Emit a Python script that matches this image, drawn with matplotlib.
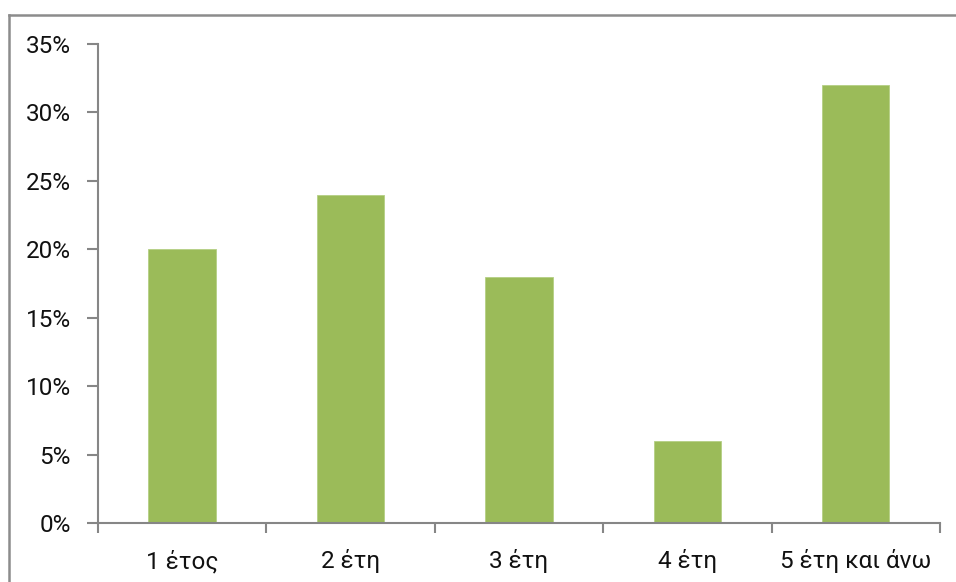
import matplotlib
matplotlib.use("Agg")
import matplotlib.pyplot as plt
from matplotlib.lines import Line2D
from matplotlib.ticker import FuncFormatter

categories = ["1 έτος", "2 έτη", "3 έτη", "4 έτη", "5 έτη και άνω"]
shares = [20, 24, 18, 6, 32]
y_ticks = [0, 5, 10, 15, 20, 25, 30, 35]

bar_color = "#9BBB59"
axis_color = "#868686"

plt.rcParams["font.family"] = ["Roboto", "DejaVu Sans"]

W, H = 956, 582
fig = plt.figure(figsize=(W / 100, H / 100), dpi=100)
ax = fig.add_axes([97.7 / W, 1 - 523 / H, (940 - 97.7) / W, (523 - 44) / H])

x = list(range(len(categories)))
ax.bar(x, shares, width=0.4, color=bar_color, edgecolor="#B5CF84", linewidth=0.6, zorder=2)

ax.set_xlim(-0.5, len(categories) - 0.5)
ax.set_ylim(0, 35)
ax.set_yticks(y_ticks)
ax.yaxis.set_major_formatter(FuncFormatter(lambda v, p: f"{v:.0f}%"))

ax.set_xticks(x)
ax.set_xticklabels(categories)
ax.set_xticks([i - 0.5 for i in range(len(categories) + 1)], minor=True)
ax.tick_params(axis="x", which="major", length=0, pad=19, labelsize=17.5, labelcolor="#111111")
ax.tick_params(axis="x", which="minor", length=7, width=1.5, color=axis_color, direction="out")
ax.tick_params(axis="y", length=8, width=1.5, color=axis_color, direction="out", pad=11.5,
               labelsize=17.5, labelcolor="#111111")

for side in ("top", "right"):
    ax.spines[side].set_visible(False)
for side in ("left", "bottom"):
    ax.spines[side].set_color(axis_color)
    ax.spines[side].set_linewidth(1.5)

# outer chart-area frame (top and left edges)
fig.add_artist(Line2D([9 / W, 1.0], [1 - 15 / H, 1 - 15 / H], color="#8C8C8C", lw=1.8,
                      transform=fig.transFigure))
fig.add_artist(Line2D([9 / W, 9 / W], [0, 1 - 15 / H], color="#8C8C8C", lw=1.8,
                      transform=fig.transFigure))

fig.savefig("out.png", dpi=100)
